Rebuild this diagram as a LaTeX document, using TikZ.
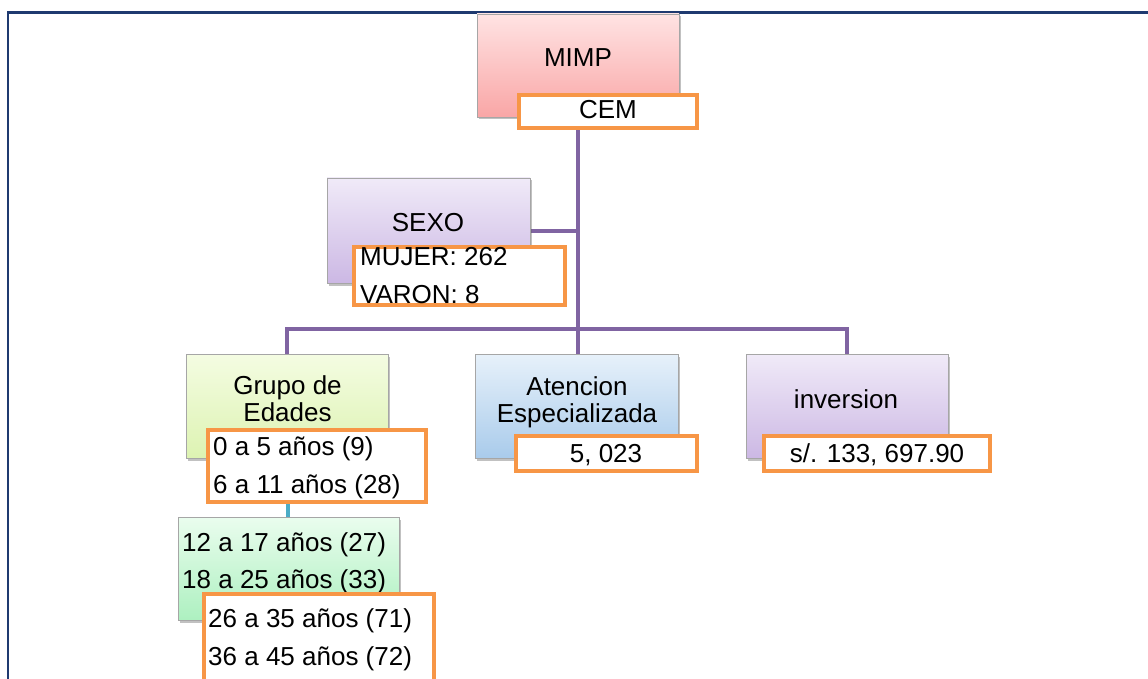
\documentclass[tikz,border=0pt]{standalone}
\usepackage{fontspec}
\setmainfont{Liberation Sans}
\usetikzlibrary{shadows,backgrounds}
\definecolor{conpurple}{HTML}{8064A2}
\definecolor{conteal}{HTML}{4BACC6}
\definecolor{orng}{HTML}{F79646}
\definecolor{frameblue}{HTML}{1F3A70}
\definecolor{boxgray}{HTML}{A6A6A6}
\definecolor{pinkT}{HTML}{FFE3E3}
\definecolor{pinkB}{HTML}{F9A6A6}
\definecolor{purT}{HTML}{F0EAF8}
\definecolor{purB}{HTML}{CCB8E4}
\definecolor{limeT}{HTML}{F4FCE2}
\definecolor{limeB}{HTML}{DDF3B2}
\definecolor{mintT}{HTML}{EAFDEE}
\definecolor{mintB}{HTML}{ADF0C0}
\definecolor{bluT}{HTML}{E7F1FA}
\definecolor{bluB}{HTML}{A9CBEB}
\begin{document}
\begin{tikzpicture}[x=1pt,y=-1pt,
  mainbox/.style={draw=boxgray, line width=0.8pt, inner sep=0pt,
    drop shadow={shadow xshift=1.5pt, shadow yshift=-2.5pt, opacity=0.4, fill=black!60}},
  valbox/.style={draw=orng, line width=4pt, fill=white, inner sep=0pt},
  conn/.style={draw=conpurple, line width=4pt, line join=miter},
  tconn/.style={draw=conteal, line width=4pt},
  lbl/.style={inner sep=0pt, font=\fontsize{26}{30}\selectfont},
]
\useasboundingbox (0,0) rectangle (1148,679);
\clip (0,0) rectangle (1148,679);
% frame
\draw[frameblue, line width=2.5pt] (8,700) -- (8,12.5) -- (1160,12.5);

% main boxes
\node[mainbox, top color=pinkT, bottom color=pinkB, minimum width=202pt, minimum height=103pt] (MIMP) at (578,65.5) {};
\node[valbox, minimum width=178pt, minimum height=33pt] (CEM) at (608,111.5) {};
\node[lbl, anchor=base] (tMIMP) at (578,67) {MIMP};
\node[lbl, anchor=base] (tCEM) at (608,119) {CEM};

\node[mainbox, top color=purT, bottom color=purB, minimum width=203pt, minimum height=105pt] (SEXO) at (428.5,230.5) {};
\node[lbl, anchor=base] (tSEXO) at (428,232) {SEXO};
\node[valbox, minimum width=211pt, minimum height=58pt] (MUJER) at (459.5,276) {};
\node[lbl, anchor=base west] (tMUJER) at (360,265) {MUJER: 262};
\node[lbl, anchor=base west] (tVARON) at (360,303) {VARON: 8};

\node[mainbox, top color=limeT, bottom color=limeB, minimum width=202pt, minimum height=104pt] (Grupo) at (287,406) {};
\node[lbl, anchor=base] (tGrupo1) at (287.5,394) {Grupo de};
\node[lbl, anchor=base] (tGrupo2) at (287.5,421) {Edades};
\node[valbox, minimum width=218pt, minimum height=72pt] (age1) at (317,466) {};
\node[lbl, anchor=base west] (tA1) at (213,455) {0 a 5 años (9)};
\node[lbl, anchor=base west] (tA2) at (213,493) {6 a 11 años (28)};

\node[mainbox, top color=mintT, bottom color=mintB, minimum width=221pt, minimum height=103pt] (age2) at (288.5,568.5) {};
\node[lbl, anchor=base west] (tA3) at (182,551) {12 a 17 años (27)};
\node[lbl, anchor=base west] (tA4) at (182,588) {18 a 25 años (33)};
\node[valbox, minimum width=230pt, minimum height=124pt] (age3) at (319,656) {};
\node[lbl, anchor=base west] (tA5) at (208,627) {26 a 35 años (71)};
\node[lbl, anchor=base west] (tA6) at (208,665) {36 a 45 años (72)};

\node[mainbox, top color=bluT, bottom color=bluB, minimum width=203pt, minimum height=104pt] (Aten) at (576.5,406) {};
\node[lbl, anchor=base] (tAten1) at (577,395) {Atencion};
\node[lbl, anchor=base] (tAten2) at (577,422) {Especializada};
\node[valbox, minimum width=181pt, minimum height=35pt] (val1) at (606.5,453.5) {};
\node[lbl, anchor=base] (tval1) at (606,462) {5, 023};

\node[mainbox, top color=purT, bottom color=purB, minimum width=202pt, minimum height=104pt] (inv) at (847,406) {};
\node[lbl, anchor=base] (tinv) at (846,408) {inversion};
\node[valbox, minimum width=226pt, minimum height=35pt] (val2) at (877,453.5) {};
\node[lbl, anchor=base] (tval2) at (877,462) {s/. 133, 697.90};

% connectors
\coordinate (hub) at (578,329);
\coordinate (tealx) at (288,0);
\begin{scope}[on background layer]
\fill[white] (0,0) rectangle (1148,679);
\draw[conn] (MIMP.south) -- (hub) -- (hub |- Aten.north);
\draw[conn] (Grupo.north) |- (hub) -| (inv.north);
\draw[conn] (SEXO.east) -- (SEXO.east -| hub);
\draw[tconn] (age1.south -| tealx) -- (age2.north -| tealx);
\end{scope}
\end{tikzpicture}
\end{document}
